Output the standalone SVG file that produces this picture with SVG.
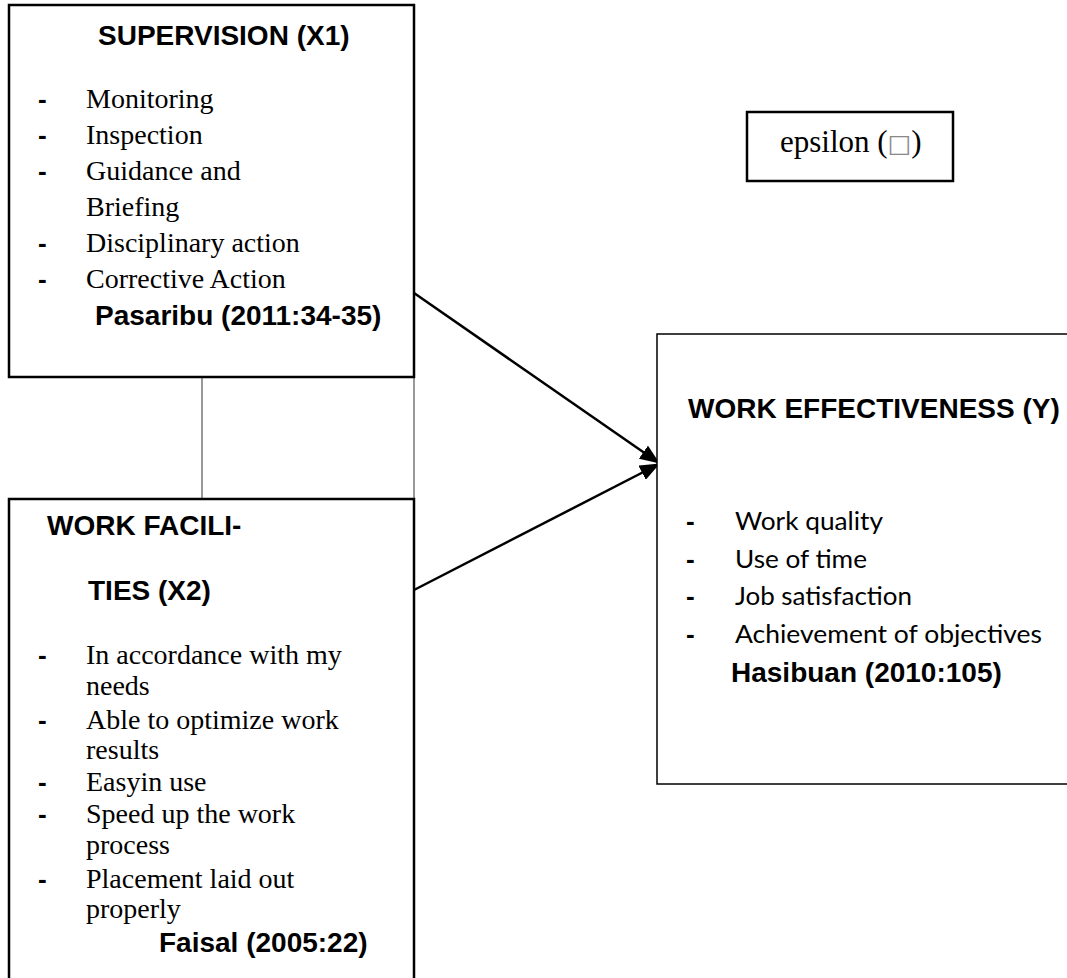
<svg xmlns="http://www.w3.org/2000/svg" width="1067" height="978" viewBox="0 0 1067 978">
<style>
.box{fill:#fff;stroke:#000;stroke-width:2.5}
.thin{fill:#fff;stroke:#000;stroke-width:1.5}
.hd{font-family:"Liberation Sans",Arial,sans-serif;font-weight:bold;font-size:28px;fill:#000}
.it{font-family:"Liberation Serif","Times New Roman",serif;font-size:28px;fill:#000}
.eps{font-family:"Liberation Serif","Times New Roman",serif;font-size:31px;fill:#000}
.sq{font-family:"DejaVu Sans",sans-serif;font-size:25px;fill:#888}
.cb{font-family:Lato,"Open Sans",sans-serif;font-size:25px;fill:#000}
.dash{font-family:"Liberation Sans",Arial,sans-serif;font-weight:bold;font-size:26px;fill:#000}
.conn{stroke:#000;stroke-width:2.5;fill:none}
.link{stroke:#555;stroke-width:1.2;fill:none}
</style>
<defs>
<marker id="ah2" markerWidth="20" markerHeight="16" refX="19" refY="8" orient="auto" markerUnits="userSpaceOnUse" viewBox="0 0 20 16">
<path d="M0,0 L20,8 L0,16 z" fill="#000"/>
</marker>
</defs>
<rect width="1067" height="978" fill="#fff"/>

<g id="connectors">
<line class="link" x1="202" y1="377" x2="202" y2="499"/>
<line class="link" x1="414" y1="377" x2="414" y2="499"/>
<line class="conn" x1="414" y1="293" x2="659" y2="463" marker-end="url(#ah2)"/>
<line class="conn" x1="414" y1="590" x2="659" y2="464" marker-end="url(#ah2)"/>
</g>

<g id="supervision">
<rect class="box" x="9" y="5" width="405" height="372"/>
<text class="hd" x="98" y="45">SUPERVISION (X1)</text>
<text class="dash" x="38" y="108">-</text>
<text class="it" x="86" y="108">Monitoring</text>
<text class="dash" x="38" y="144">-</text>
<text class="it" x="86" y="144">Inspection</text>
<text class="dash" x="38" y="180">-</text>
<text class="it" x="86" y="180">Guidance and</text>
<text class="it" x="86" y="216">Briefing</text>
<text class="dash" x="38" y="252">-</text>
<text class="it" x="86" y="252">Disciplinary action</text>
<text class="dash" x="38" y="288">-</text>
<text class="it" x="86" y="288">Corrective Action</text>
<text class="hd" x="95" y="325">Pasaribu (2011:34-35)</text>
</g>

<g id="facilities">
<rect class="box" x="9" y="499" width="405" height="500"/>
<text class="hd" x="47" y="535">WORK FACILI-</text>
<text class="hd" x="88" y="600">TIES (X2)</text>
<text class="dash" x="38" y="664">-</text>
<text class="it" x="86" y="664">In accordance with my</text>
<text class="it" x="86" y="695">needs</text>
<text class="dash" x="38" y="729">-</text>
<text class="it" x="86" y="729">Able to optimize work</text>
<text class="it" x="86" y="759">results</text>
<text class="dash" x="38" y="791">-</text>
<text class="it" x="86" y="791">Easyin use</text>
<text class="dash" x="38" y="823">-</text>
<text class="it" x="86" y="823">Speed up the work</text>
<text class="it" x="86" y="854">process</text>
<text class="dash" x="38" y="888">-</text>
<text class="it" x="86" y="888">Placement laid out</text>
<text class="it" x="86" y="918">properly</text>
<text class="hd" x="159" y="952">Faisal (2005:22)</text>
</g>

<g id="epsilon">
<rect class="box" x="747" y="112" width="206" height="69"/>
<text class="eps" x="780" y="152">epsilon (<tspan class="sq">□</tspan>)</text>
</g>

<g id="effectiveness">
<rect class="thin" x="657" y="334" width="430" height="450"/>
<text class="hd" x="688" y="418">WORK EFFECTIVENESS (Y)</text>
<text class="dash" x="686" y="530">-</text>
<text class="cb" x="735" y="530" textLength="148" lengthAdjust="spacingAndGlyphs">Work quality</text>
<text class="dash" x="686" y="568">-</text>
<text class="cb" x="735" y="568" textLength="132" lengthAdjust="spacingAndGlyphs">Use of time</text>
<text class="dash" x="686" y="605">-</text>
<text class="cb" x="735" y="605" textLength="177" lengthAdjust="spacingAndGlyphs">Job satisfaction</text>
<text class="dash" x="686" y="643">-</text>
<text class="cb" x="735" y="643" textLength="307" lengthAdjust="spacingAndGlyphs">Achievement of objectives</text>
<text class="hd" x="731" y="682">Hasibuan (2010:105)</text>
</g>
</svg>
